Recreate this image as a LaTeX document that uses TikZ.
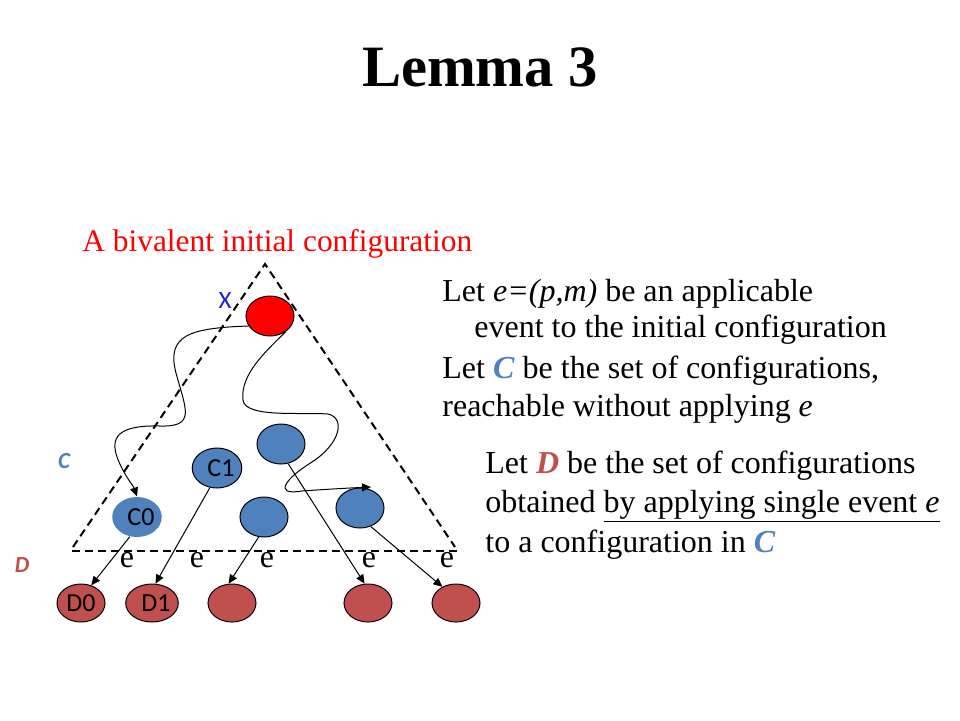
\documentclass[tikz,border=0pt]{standalone}
\usepackage{fontspec}
\setmainfont{Liberation Serif}
\newfontfamily\calibri{Carlito}
\usetikzlibrary{shapes.geometric}
\usetikzlibrary{arrows.meta}
\definecolor{cblue}{RGB}{79,129,189}
\definecolor{dred}{RGB}{192,80,77}
\definecolor{xblue}{RGB}{30,30,225}

\begin{document}
\begin{tikzpicture}[x=0.5pt, y=-0.5pt,
	conf/.style={ellipse, draw=black, line width=0.5pt, fill=cblue, minimum width=24pt, minimum height=20pt, inner sep=0pt, font=\calibri\fontsize{13}{14}\selectfont},
	dconf/.style={conf, fill=dred, minimum height=19pt},
	border/.style={line width=1pt, dash pattern=on 4pt off 2.5pt},
	apply/.style={-{Triangle[length=4.5pt,width=4pt]}, line width=0.5pt},
	txt/.style={anchor=base west, inner sep=0pt, font=\fontsize{16}{19}\selectfont},
	elabel/.style={anchor=base, inner sep=0pt, font=\fontsize{16}{19}\selectfont}]
	\useasboundingbox (0,0) rectangle (960,720);
	% Title
	\node[anchor=base, inner sep=0pt, font=\bfseries\fontsize{29.3}{32}\selectfont] (title) at (480,86) {Lemma 3};
	\node[txt, text=red, font=\fontsize{15.7}{19}\selectfont] (biv) at (82,251) {A bivalent initial configuration};
	% Borders of C and D
	\coordinate (top) at (265,264);
	\coordinate (bl) at (73,547);
	\coordinate (br) at (455,547);
	\draw[border] (bl) -- (top) -- (br);
	\coordinate (dl) at (72,551);
	\coordinate (dr) at (458,551);
	\draw[border] (dl) -- (dr);
	% Configurations in C
	\node[conf, fill=red] (x) at (270,316) {};
	\node[conf, draw=none] (c0) at (137,517) {\hspace{4pt}C0};
	\node[conf] (c1) at (217,468) {\hspace{4pt}C1};
	\node[conf] (c2) at (281,444) {};
	\node[conf] (c3) at (264,517) {};
	\node[conf] (c4) at (360,508) {};
	% Configurations in D
	\node[dconf] (d0) at (81,603) {D0};
	\node[dconf] (d1) at (152,603) {\hspace{4pt}D1};
	\node[dconf] (d2) at (232,603) {};
	\node[dconf] (d3) at (368,603) {};
	\node[dconf] (d4) at (456,603) {};
	% Labels
	\node[inner sep=0pt, text=xblue, font=\calibri\fontsize{12.5}{14}\selectfont] (xl) at (225,300) {X};
	\node[inner sep=0pt, text=cblue, font=\calibri\bfseries\itshape\fontsize{11.5}{13}\selectfont] (cl) at (64,461) {C};
	\node[inner sep=0pt, text=dred, font=\calibri\bfseries\itshape\fontsize{11.5}{13}\selectfont] (dl) at (22,565) {D};
	% Wavy runs
	\draw[apply] (x.205) .. controls (190,328) and (166,335) .. (176,373)
		.. controls (186,410) and (196,427) .. (160,426)
		.. controls (118,425) and (108,437) .. (119,462)
		.. controls (126,478) and (133,485) .. (c0.north);
	\coordinate (w2) at (371,487);
	\draw[apply] (x.-45) .. controls (265,352) and (240,375) .. (243,400)
		.. controls (245,418) and (300,412) .. (328,414)
		.. controls (346,418) and (340,444) .. (312,462)
		.. controls (286,478) and (272,496) .. (302,491)
		.. controls (330,489) and (350,488) .. (w2);
	% Applying e
	\draw[apply] (c0.250) -- (d0.60);
	\draw[apply] (c1.250) -- (d1.80);
	\draw[apply] (c3.255) -- (d2.100);
	\draw[apply] (c2.290) -- (d3.100);
	\draw[apply] (c4.300) -- (d4.130);
	\node[elabel] (e0) at (127,567) {e};
	\node[elabel] (e1) at (197,567) {e};
	\node[elabel] (e2) at (267,567) {e};
	\node[elabel] (e3) at (369,567) {e};
	\node[elabel] (e4) at (447,567) {e};
	% Text
	\node[txt] (l1) at (442,301) {Let \textit{e=(p,m)} be an applicable};
	\node[txt] (l2) at (474,337) {event to the initial configuration};
	\node[txt] (l3) at (442,378) {Let \textcolor{cblue}{\textbf{\textit{C}}} be the set of configurations,};
	\node[txt] (l4) at (442,416) {reachable without applying \textit{e}};
	\node[txt] (l5) at (485,473) {Let \textcolor{dred}{\textbf{\textit{D}}} be the set of configurations};
	\node[txt] (l6) at (485,512) {obtained \underline{by applying single event \textit{e}}};
	\node[txt] (l7) at (485,552) {to a configuration in \textcolor{cblue}{\textbf{\textit{C}}}};
\end{tikzpicture}
\end{document}
